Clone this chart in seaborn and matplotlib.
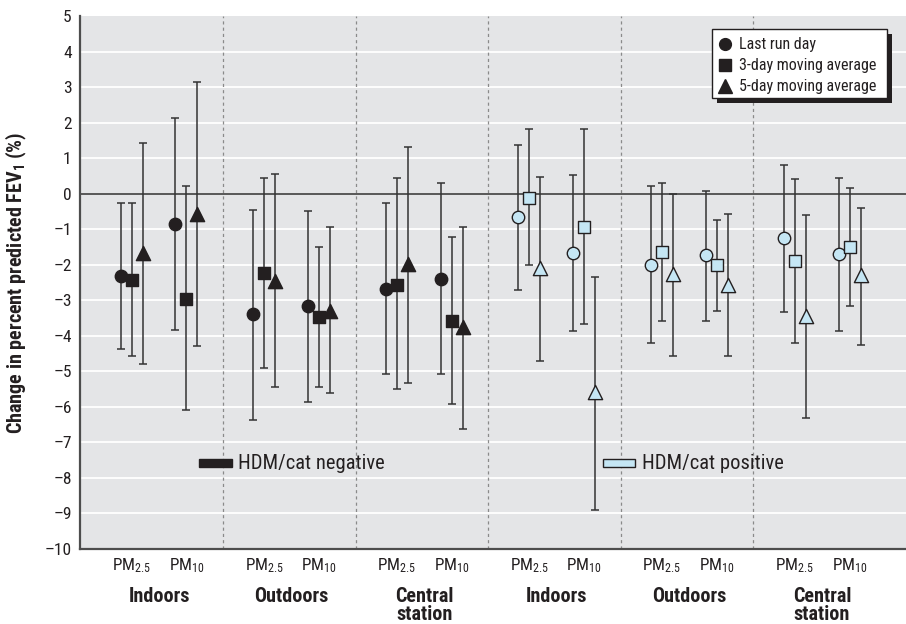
import numpy as np
import pandas as pd
import matplotlib
matplotlib.use("Agg")
import matplotlib.pyplot as plt
import seaborn as sns
from matplotlib.lines import Line2D
from matplotlib.patches import Rectangle
from matplotlib.transforms import blended_transform_factory

# ---------------- data ----------------
statuses = ["HDM/cat negative", "HDM/cat positive"]
locations = ["Indoors", "Outdoors", "Central\nstation"]
pollutants = ["PM$_{2.5}$", "PM$_{10}$"]
lags = ["Last run day", "3-day moving average", "5-day moving average"]

# order: status x location x pollutant x lag
neg_est = [-2.31, -2.43, -1.67, -0.86, -2.96, -0.58,
           -3.40, -2.23, -2.45, -3.16, -3.46, -3.30,
           -2.67, -2.56, -1.98, -2.39, -3.57, -3.74]
neg_lo = [-4.37, -4.58, -4.78, -3.84, -6.09, -4.28,
          -6.37, -4.90, -5.43, -5.86, -5.43, -5.61,
          -5.08, -5.51, -5.33, -5.08, -5.91, -6.62]
neg_hi = [-0.27, -0.26, 1.42, 2.12, 0.21, 3.15,
          -0.47, 0.44, 0.56, -0.50, -1.51, -0.95,
          -0.26, 0.43, 1.30, 0.31, -1.22, -0.94]
pos_est = [-0.67, -0.12, -2.10, -1.67, -0.94, -5.59,
           -2.00, -1.64, -2.27, -1.74, -2.01, -2.57,
           -1.26, -1.90, -3.43, -1.69, -1.51, -2.30]
pos_lo = [-2.71, -2.00, -4.70, -3.86, -3.68, -8.89,
          -4.19, -3.57, -4.56, -3.57, -3.30, -4.56,
          -3.33, -4.19, -6.32, -3.86, -3.16, -4.27]
pos_hi = [1.37, 1.81, 0.46, 0.52, 1.83, -2.35,
          0.21, 0.31, -0.01, 0.08, -0.74, -0.57,
          0.81, 0.42, -0.60, 0.45, 0.15, -0.41]

yticks = list(range(-10, 6))
ytick_labels = [("\u2013" + str(abs(t))) if t < 0 else str(t) for t in yticks]

# ---------------- layout helpers ----------------
POLL_OFF = 0.207
LAG_OFF = 0.083

rows = []
for si, (est, lo, hi) in enumerate([(neg_est, neg_lo, neg_hi), (pos_est, pos_lo, pos_hi)]):
    k = 0
    for li in range(len(locations)):
        g = si * len(locations) + li
        for pi in range(len(pollutants)):
            for lagi, lag in enumerate(lags):
                x = g + (pi - 0.5) * 2 * POLL_OFF + (lagi - 1) * LAG_OFF
                rows.append(dict(status=statuses[si], group=g, pollutant=pi,
                                 lag=lag, x=x, est=est[k], lo=lo[k], hi=hi[k]))
                k += 1
df = pd.DataFrame(rows)

# ---------------- style ----------------
sns.set_theme(style="white")
FONT = ["Roboto Condensed", "Archivo Narrow", "Fira Sans Condensed", "DejaVu Sans"]
plt.rcParams["font.family"] = FONT
plt.rcParams["mathtext.fontset"] = "custom"
plt.rcParams["mathtext.rm"] = "Roboto Condensed"
plt.rcParams["mathtext.it"] = "Roboto Condensed:italic"
plt.rcParams["mathtext.bf"] = "Roboto Condensed:bold"

BG = "#e4e5e7"
TXT = "#231f20"
NEG_FILL = "#231f20"
POS_FILL = "#c5e6f4"

fig = plt.figure(figsize=(9.06, 6.24), dpi=100)
ax = fig.add_axes([80 / 906, 75 / 624, 826 / 906, 533 / 624])
ax.set_facecolor(BG)

ax.set_xlim(-0.596, 5.633)
ax.set_ylim(-10, 5)

# white gridlines
for t in yticks:
    if t != 0 and t not in (-10, 5):
        ax.axhline(t, color="white", lw=1.3, zorder=1)
ax.axhline(0, color="#4d4d4d", lw=1.3, zorder=2)

# dashed group separators
for b in range(5):
    ax.axvline(b + 0.482, color="#8a8a8a", lw=0.9, ls=(0, (2.5, 2.5)), zorder=1.5)

# error bars
ax.errorbar(df["x"], df["est"],
            yerr=[df["est"] - df["lo"], df["hi"] - df["est"]],
            fmt="none", ecolor="#333333", elinewidth=1.1, capsize=3.0,
            capthick=1.1, zorder=3)

# markers via seaborn
marker_map = {lags[0]: "o", lags[1]: "s", lags[2]: "^"}
for st, fill in [(statuses[0], NEG_FILL), (statuses[1], POS_FILL)]:
    sub = df[df["status"] == st]
    for lag, m in marker_map.items():
        ss = sub[sub["lag"] == lag]
        size = 80 if m != "^" else 105
        sns.scatterplot(data=ss, x="x", y="est", marker=m, s=size,
                        color=fill, edgecolor="#231f20", linewidth=1.0,
                        ax=ax, zorder=4, legend=False)

# axes styling
for sp in ["top", "right"]:
    ax.spines[sp].set_visible(False)
for sp in ["left", "bottom"]:
    ax.spines[sp].set_color("#4d4d4d")
    ax.spines[sp].set_linewidth(1.6)
ax.set_yticks(yticks)
ax.set_yticklabels(ytick_labels, fontsize=12.5, color=TXT)
ax.tick_params(axis="y", length=0, pad=6)
ax.set_xticks([])
ax.set_xlabel("")
ax.set_ylabel("Change in percent predicted FEV$_\\mathbf{1}$ (%)",
              fontsize=14.5, fontweight="bold", color=TXT)
ax.yaxis.set_label_coords(-(80 - 29) / 826, 0.5)

# x labels
trans = blended_transform_factory(ax.transData, ax.transAxes)
for g in range(6):
    for pi, pl in enumerate(pollutants):
        ax.text(g + (pi - 0.5) * 2 * POLL_OFF, -(570 - 549) / 533, pl,
                transform=trans, ha="center", va="baseline", fontsize=12.3,
                color=TXT)
    for li, line in enumerate(locations[g % 3].split("\n")):
        ax.text(g, -(601.5 + 19 * li - 549) / 533, line, transform=trans,
                ha="center", va="baseline", fontsize=14.5, fontweight="bold",
                color=TXT)

# HDM/cat labels
ax.add_patch(Rectangle((0.301, -7.69), 0.249, 0.22, facecolor=NEG_FILL,
                       edgecolor=NEG_FILL, lw=1, zorder=5))
ax.text(0.595, -7.58, statuses[0], ha="left", va="center", fontsize=14.8,
        color=TXT, zorder=5)
ax.add_patch(Rectangle((3.346, -7.69), 0.241, 0.22, facecolor=POS_FILL,
                       edgecolor="#231f20", lw=1, zorder=5))
ax.text(3.639, -7.58, statuses[1], ha="left", va="center", fontsize=14.8,
        color=TXT, zorder=5)

# legend box with shadow
lx0, lx1 = (711.7 - 80) / 826, (887.3 - 80) / 826
ly0, ly1 = (549 - 98.3) / 533, (549 - 29.3) / 533
ax.add_patch(Rectangle((lx0 + 5 / 826, ly0 - 5 / 533), lx1 - lx0, ly1 - ly0,
                       transform=ax.transAxes, facecolor="#231f20",
                       edgecolor="none", zorder=8, clip_on=False))
ax.add_patch(Rectangle((lx0, ly0), lx1 - lx0, ly1 - ly0,
                       transform=ax.transAxes, facecolor="white",
                       edgecolor="#231f20", lw=1.0, zorder=9, clip_on=False))
handles = [Line2D([], [], ls="none", marker=marker_map[l], color="#231f20",
                  markersize=(8.5 if marker_map[l] != "^" else 10)) for l in lags]
leg = ax.legend(handles, lags, loc="upper left",
                bbox_to_anchor=(lx0 - 0.0076, ly1 + 0.006), frameon=False,
                fontsize=11.5, handlelength=1.0, handletextpad=0.4,
                labelspacing=0.38, borderaxespad=0.3, borderpad=0.4)
leg.set_zorder(10)
for t in leg.get_texts():
    t.set_color(TXT)

fig.savefig("out.png", dpi=100, facecolor="white")
